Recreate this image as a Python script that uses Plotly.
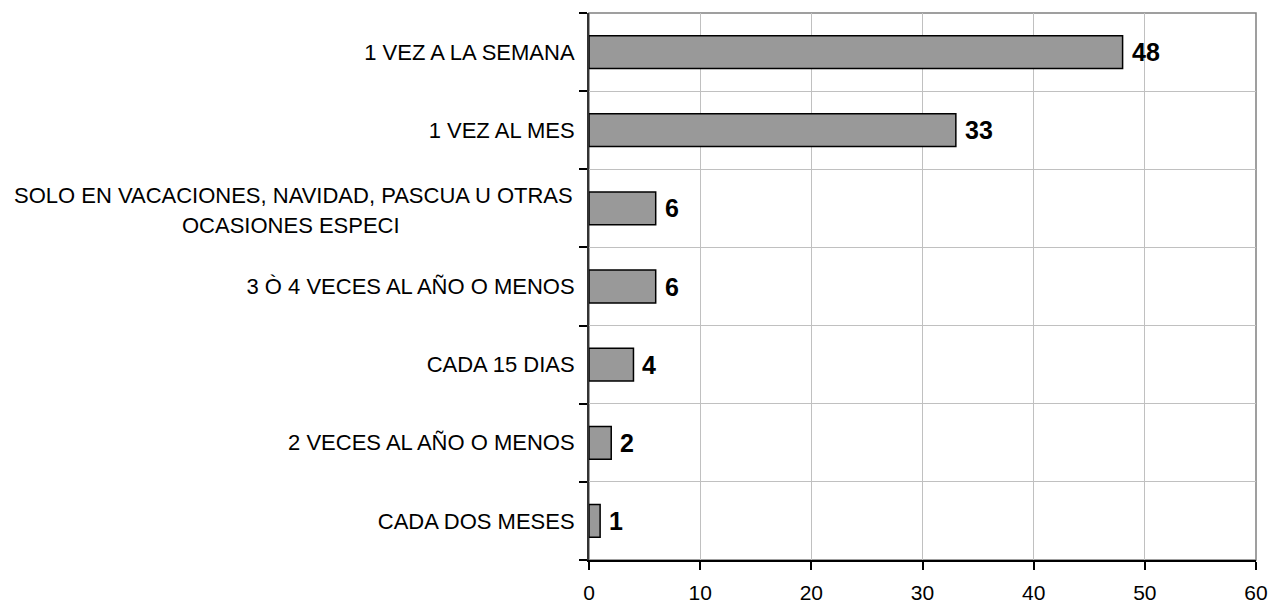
import plotly.graph_objects as go

categories = [
    "1 VEZ A LA SEMANA",
    "1 VEZ AL MES",
    "SOLO EN VACACIONES, NAVIDAD, PASCUA U OTRAS OCASIONES ESPECI",
    "3 Ò 4 VECES AL AÑO O MENOS",
    "CADA 15 DIAS",
    "2 VECES AL AÑO O MENOS",
    "CADA DOS MESES",
]
values = [48, 33, 6, 6, 4, 2, 1]
tick_labels = [
    "1 VEZ A LA SEMANA",
    "1 VEZ AL MES",
    "",
    "3 Ò 4 VECES AL AÑO O MENOS",
    "CADA 15 DIAS",
    "2 VECES AL AÑO O MENOS",
    "CADA DOS MESES",
]
long_label_lines = ["SOLO EN VACACIONES, NAVIDAD, PASCUA U OTRAS", "OCASIONES ESPECI"]

FONT = "Liberation Sans, Arial, sans-serif"

fig = go.Figure()
fig.add_trace(go.Bar(
    x=values, y=categories, orientation="h",
    marker=dict(color="#999999", line=dict(color="#000000", width=1.5)),
    hoverinfo="x+y",
))

annotations = []
for c, v in zip(categories, values):
    annotations.append(dict(
        x=v, y=c, xref="x", yref="y", text="<b>%d</b>" % v,
        showarrow=False, xanchor="left", yanchor="middle", xshift=7,
        font=dict(family=FONT, size=25, color="#000000"),
    ))
# long two-line category label
annotations.append(dict(
    x=0, y=categories[2], xref="paper", yref="y", text=long_label_lines[0],
    showarrow=False, xanchor="right", yanchor="middle", xshift=-14, yshift=13,
    font=dict(family=FONT, size=22, color="#000000"),
))
annotations.append(dict(
    x=0, y=categories[2], xref="paper", yref="y", text=long_label_lines[1],
    showarrow=False, xanchor="right", yanchor="middle", xshift=-187, yshift=-17,
    font=dict(family=FONT, size=22, color="#000000"),
))

fig.update_layout(
    width=1272, height=605,
    margin=dict(l=589, r=16, t=13, b=45),
    paper_bgcolor="white", plot_bgcolor="white",
    bargap=0.58,
    showlegend=False,
    annotations=annotations,
    shapes=[dict(type="rect", xref="paper", yref="paper", x0=0, x1=1, y0=0, y1=1,
                 line=dict(color="#808080", width=1.5), layer="below")],
    xaxis=dict(
        range=[0, 60], dtick=10, tick0=0, automargin=False,
        showgrid=True, gridcolor="#c0c0c0", gridwidth=1,
        showline=True, linecolor="#000000", linewidth=1.5,
        ticks="outside", ticklen=8, tickcolor="#000000", tickwidth=1.5,
        tickfont=dict(family=FONT, size=21, color="#000000"),
        ticklabelstandoff=5,
        zeroline=False, fixedrange=True,
    ),
    yaxis=dict(
        type="category", autorange="reversed", automargin=False,
        tickmode="array", tickvals=categories, ticktext=tick_labels,
        tickson="boundaries",
        showgrid=True, gridcolor="#c0c0c0", gridwidth=1,
        showline=True, linecolor="#333333", linewidth=2,
        ticks="outside", ticklen=8, tickcolor="#000000", tickwidth=1.5,
        tickfont=dict(family=FONT, size=22, color="#000000"),
        ticklabelstandoff=8,
        zeroline=False, fixedrange=True,
    ),
)

fig.write_html(
    "out.html",
    config={"displayModeBar": False},
    post_script="document.body.style.margin='0';document.body.style.overflow='hidden';",
)
